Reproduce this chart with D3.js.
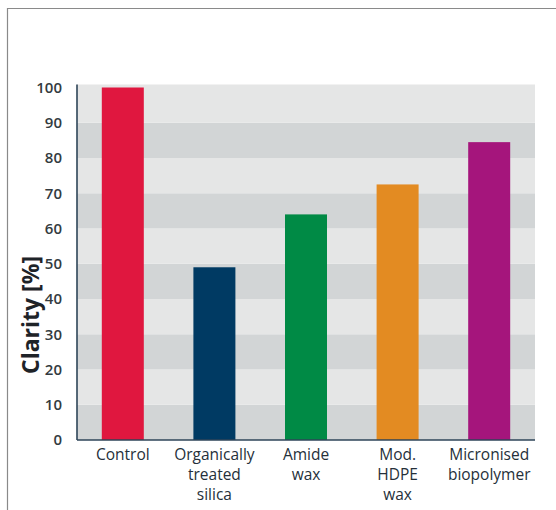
<!DOCTYPE html>
<html>
<head>
<meta charset="utf-8">
<script src="https://cdn.jsdelivr.net/npm/d3@7"></script>
<style>
  html, body { margin: 0; padding: 0; background: #ffffff; }
  svg { display: block; }
</style>
</head>
<body>
<svg id="chart" width="556" height="510"></svg>
<script>
// Clarity of the film for each additive
const categories = ["Control", "Organically treated silica", "Amide wax", "Mod. HDPE wax", "Micronised biopolymer"];
const labelLines = [["Control"], ["Organically", "treated", "silica"], ["Amide", "wax"], ["Mod.", "HDPE", "wax"], ["Micronised", "biopolymer"]];
const clarity = [100, 49, 64, 72.5, 84.5];
const barColors = ["#e0173f", "#003a63", "#008a45", "#e38b22", "#a5157c"];
const yTicks = [0, 10, 20, 30, 40, 50, 60, 70, 80, 90, 100];

const svg = d3.select("#chart");
const font = "'Open Sans', 'DejaVu Sans', sans-serif";

// outer frame
svg.append("path")
  .attr("d", "M7.5,510 V8.5 H556")
  .attr("fill", "none")
  .attr("stroke", "#8a8a8a")
  .attr("stroke-width", 1.2);

const plotLeft = 77, plotRight = 535, plotTop = 87.5, plotBottom = 440;

const x = d3.scaleBand().domain(categories).range([plotLeft, plotRight]).paddingInner(0).paddingOuter(0);
const y = d3.scaleLinear().domain([0, 100]).range([plotBottom, plotTop]);

// alternating horizontal bands
const bandEdges = d3.range(0, 100, 10);
svg.append("g").selectAll("rect")
  .data(bandEdges)
  .join("rect")
  .attr("x", plotLeft)
  .attr("width", plotRight - plotLeft)
  .attr("y", d => d === 90 ? y(100) - 3 : y(d + 10))
  .attr("height", d => d === 90 ? y(90) - y(100) + 3 : y(d) - y(d + 10))
  .attr("fill", d => (Math.round(d / 10) % 2 === 0) ? "#d2d5d6" : "#e5e6e6");

// bars
const barW = 42;
svg.append("g").selectAll("rect")
  .data(categories)
  .join("rect")
  .attr("x", d => x(d) + x.bandwidth() / 2 - barW / 2)
  .attr("width", barW)
  .attr("y", (d, i) => y(clarity[i]))
  .attr("height", (d, i) => y(0) - y(clarity[i]))
  .attr("fill", (d, i) => barColors[i]);

// y axis
const yAxis = svg.append("g")
  .attr("transform", `translate(${plotLeft},0)`)
  .call(d3.axisLeft(y).tickValues(yTicks).tickSize(0).tickPadding(15));
yAxis.select(".domain")
  .attr("d", `M0,${y(100) - 3}V${plotBottom}`)
  .attr("stroke", "#2e4558")
  .attr("stroke-width", 1.6);
yAxis.selectAll("text")
  .attr("font-family", font)
  .attr("font-size", 15)
  .attr("font-weight", 600)
  .attr("fill", "#333b40");

// x axis
const xAxis = svg.append("g")
  .attr("transform", `translate(0,${plotBottom})`)
  .call(d3.axisBottom(x).tickSize(0).tickFormat(""));
xAxis.select(".domain")
  .attr("d", `M${plotLeft},0H${plotRight}`)
  .attr("stroke", "#2e4558")
  .attr("stroke-width", 1.6);

// multi-line category labels
xAxis.selectAll(".tick").each(function (d, i) {
  const t = d3.select(this).append("text")
    .attr("font-family", font)
    .attr("font-size", 15.5)
    .attr("font-weight", 500)
    .attr("fill", "#25303a")
    .attr("text-anchor", "middle");
  labelLines[i].forEach((line, k) => {
    t.append("tspan").attr("x", 0).attr("y", 20 + k * 20).text(line);
  });
});

// y axis title
svg.append("text")
  .attr("transform", `translate(39,315) rotate(-90)`)
  .attr("text-anchor", "middle")
  .attr("font-family", font)
  .attr("font-size", 23)
  .attr("font-weight", 700)
  .attr("fill", "#1e2328")
  .text("Clarity [%]");
</script>
</body>
</html>
